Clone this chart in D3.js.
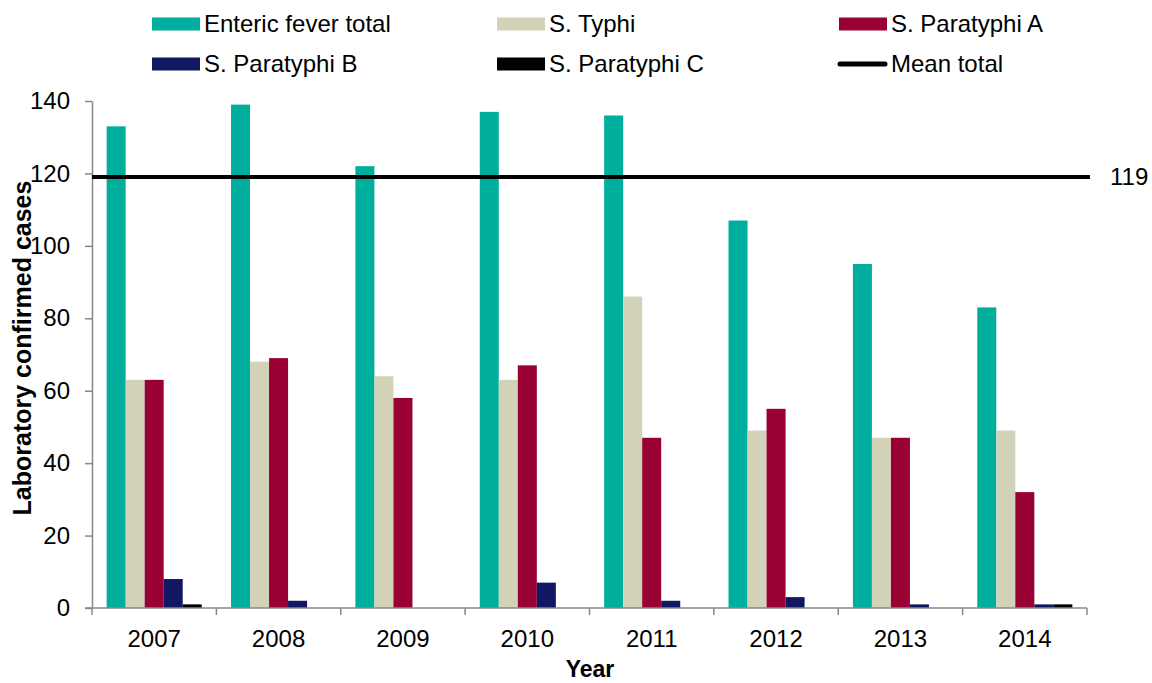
<!DOCTYPE html>
<html>
<head>
<meta charset="utf-8">
<script src="https://cdn.jsdelivr.net/npm/d3@7"></script>
<style>
  html, body { margin: 0; padding: 0; background: #fff; }
  svg { display: block; font-family: "Liberation Sans", Arial, sans-serif; }
</style>
</head>
<body>
<svg id="chart" width="1152" height="683"></svg>
<script>
// Laboratory confirmed enteric fever cases by year and serotype
const years = ["2007", "2008", "2009", "2010", "2011", "2012", "2013", "2014"];
const entericTotal = [133, 139, 122, 137, 136, 107, 95, 83];
const typhi = [63, 68, 64, 63, 86, 49, 47, 49];
const paratyphiA = [63, 69, 58, 67, 47, 55, 47, 32];
const paratyphiB = [8, 2, 0, 7, 2, 3, 1, 1];
const paratyphiC = [1, 0, 0, 0, 0, 0, 0, 1];
const meanTotal = 119;
const yTicks = [0, 20, 40, 60, 80, 100, 120, 140];

const seriesNames = ["Enteric fever total", "S. Typhi", "S. Paratyphi A", "S. Paratyphi B", "S. Paratyphi C"];
const seriesValues = [entericTotal, typhi, paratyphiA, paratyphiB, paratyphiC];
const seriesColors = ["#00AE9E", "#D2D2B8", "#990033", "#111760", "#000000"];

const svg = d3.select("#chart");
const margin = { left: 92, right: 65, top: 101, bottom: 75 };
const W = 1152, H = 683;
const plotW = W - margin.left - margin.right;
const plotH = H - margin.top - margin.bottom;
const FS = 24;

const x0 = d3.scaleBand().domain(years).range([margin.left, margin.left + plotW]).paddingInner(0).paddingOuter(0);
const x1 = d3.scaleBand().domain(seriesNames).range([0, x0.bandwidth()]).paddingInner(0).paddingOuter(0.77);
const y = d3.scaleLinear().domain([0, 140]).range([margin.top + plotH, margin.top]);

// Bars
const groups = svg.append("g").selectAll("g")
  .data(years)
  .join("g")
  .attr("transform", d => `translate(${x0(d)},0)`);

groups.selectAll("rect")
  .data((yr, i) => seriesNames.map((s, k) => ({ s, k, v: seriesValues[k][i] })))
  .join("rect")
  .attr("x", d => x1(d.s))
  .attr("width", x1.bandwidth())
  .attr("y", d => y(d.v))
  .attr("height", d => y(0) - y(d.v))
  .attr("fill", d => seriesColors[d.k]);

// Y axis
const yAxis = d3.axisLeft(y).tickValues(yTicks).tickSize(7).tickSizeOuter(0).tickPadding(15);
const gy = svg.append("g").attr("transform", `translate(${margin.left},0)`).call(yAxis);
gy.select(".domain").attr("stroke", "#888").attr("stroke-width", 1.5);
gy.selectAll(".tick line").attr("stroke", "#888").attr("stroke-width", 1.5);
gy.selectAll(".tick text").attr("font-size", FS).attr("fill", "#000")
  .attr("font-family", "Liberation Sans, Arial, sans-serif");

// X axis with ticks at category boundaries
const gx = svg.append("g").attr("transform", `translate(0,${y(0)})`);
gx.append("line")
  .attr("x1", margin.left - 7).attr("x2", margin.left + plotW)
  .attr("y1", 0).attr("y2", 0)
  .attr("stroke", "#888").attr("stroke-width", 1.5);
const boundaries = years.map(d => x0(d)).concat([x0(years[years.length - 1]) + x0.bandwidth()]);
gx.selectAll("line.tk").data(boundaries).join("line")
  .attr("class", "tk")
  .attr("x1", d => d).attr("x2", d => d)
  .attr("y1", 0).attr("y2", 7)
  .attr("stroke", "#888").attr("stroke-width", 1.5);
gx.selectAll("text").data(years).join("text")
  .attr("x", d => x0(d) + x0.bandwidth() / 2)
  .attr("y", 39)
  .attr("text-anchor", "middle")
  .attr("font-size", FS)
  .text(d => d);

// Mean line
svg.append("line")
  .attr("x1", margin.left).attr("x2", margin.left + plotW + 3)
  .attr("y1", y(meanTotal)).attr("y2", y(meanTotal))
  .attr("stroke", "#000").attr("stroke-width", 4);
svg.append("text")
  .attr("x", 1110).attr("y", y(meanTotal) + 8)
  .attr("font-size", FS)
  .text(meanTotal);

// Axis titles
svg.append("text")
  .attr("transform", `translate(31,348) rotate(-90)`)
  .attr("text-anchor", "middle")
  .attr("font-size", 25).attr("font-weight", "bold")
  .text("Laboratory confirmed cases");
svg.append("text")
  .attr("x", 590).attr("y", 677)
  .attr("text-anchor", "middle")
  .attr("font-size", 23).attr("font-weight", "bold")
  .text("Year");

// Legend
const legendItems = [
  { name: "Enteric fever total", color: seriesColors[0], type: "box", col: 0, row: 0 },
  { name: "S. Typhi", color: seriesColors[1], type: "box", col: 1, row: 0 },
  { name: "S. Paratyphi A", color: seriesColors[2], type: "box", col: 2, row: 0 },
  { name: "S. Paratyphi B", color: seriesColors[3], type: "box", col: 0, row: 1 },
  { name: "S. Paratyphi C", color: seriesColors[4], type: "box", col: 1, row: 1 },
  { name: "Mean total", color: "#000", type: "line", col: 2, row: 1 }
];
const colX = [152, 497, 839];
const rowY = [24, 64];
const lg = svg.append("g");
legendItems.forEach(it => {
  const gx0 = colX[it.col], gy0 = rowY[it.row];
  if (it.type === "box") {
    lg.append("rect").attr("x", gx0).attr("y", gy0 - 6.5).attr("width", 48).attr("height", 13).attr("fill", it.color);
  } else {
    lg.append("line").attr("x1", gx0 + 1).attr("x2", gx0 + 46).attr("y1", gy0).attr("y2", gy0)
      .attr("stroke", it.color).attr("stroke-width", 5).attr("stroke-linecap", "round");
  }
  lg.append("text").attr("x", gx0 + 52).attr("y", gy0 + 8).attr("font-size", FS).text(it.name);
});
</script>
</body>
</html>
